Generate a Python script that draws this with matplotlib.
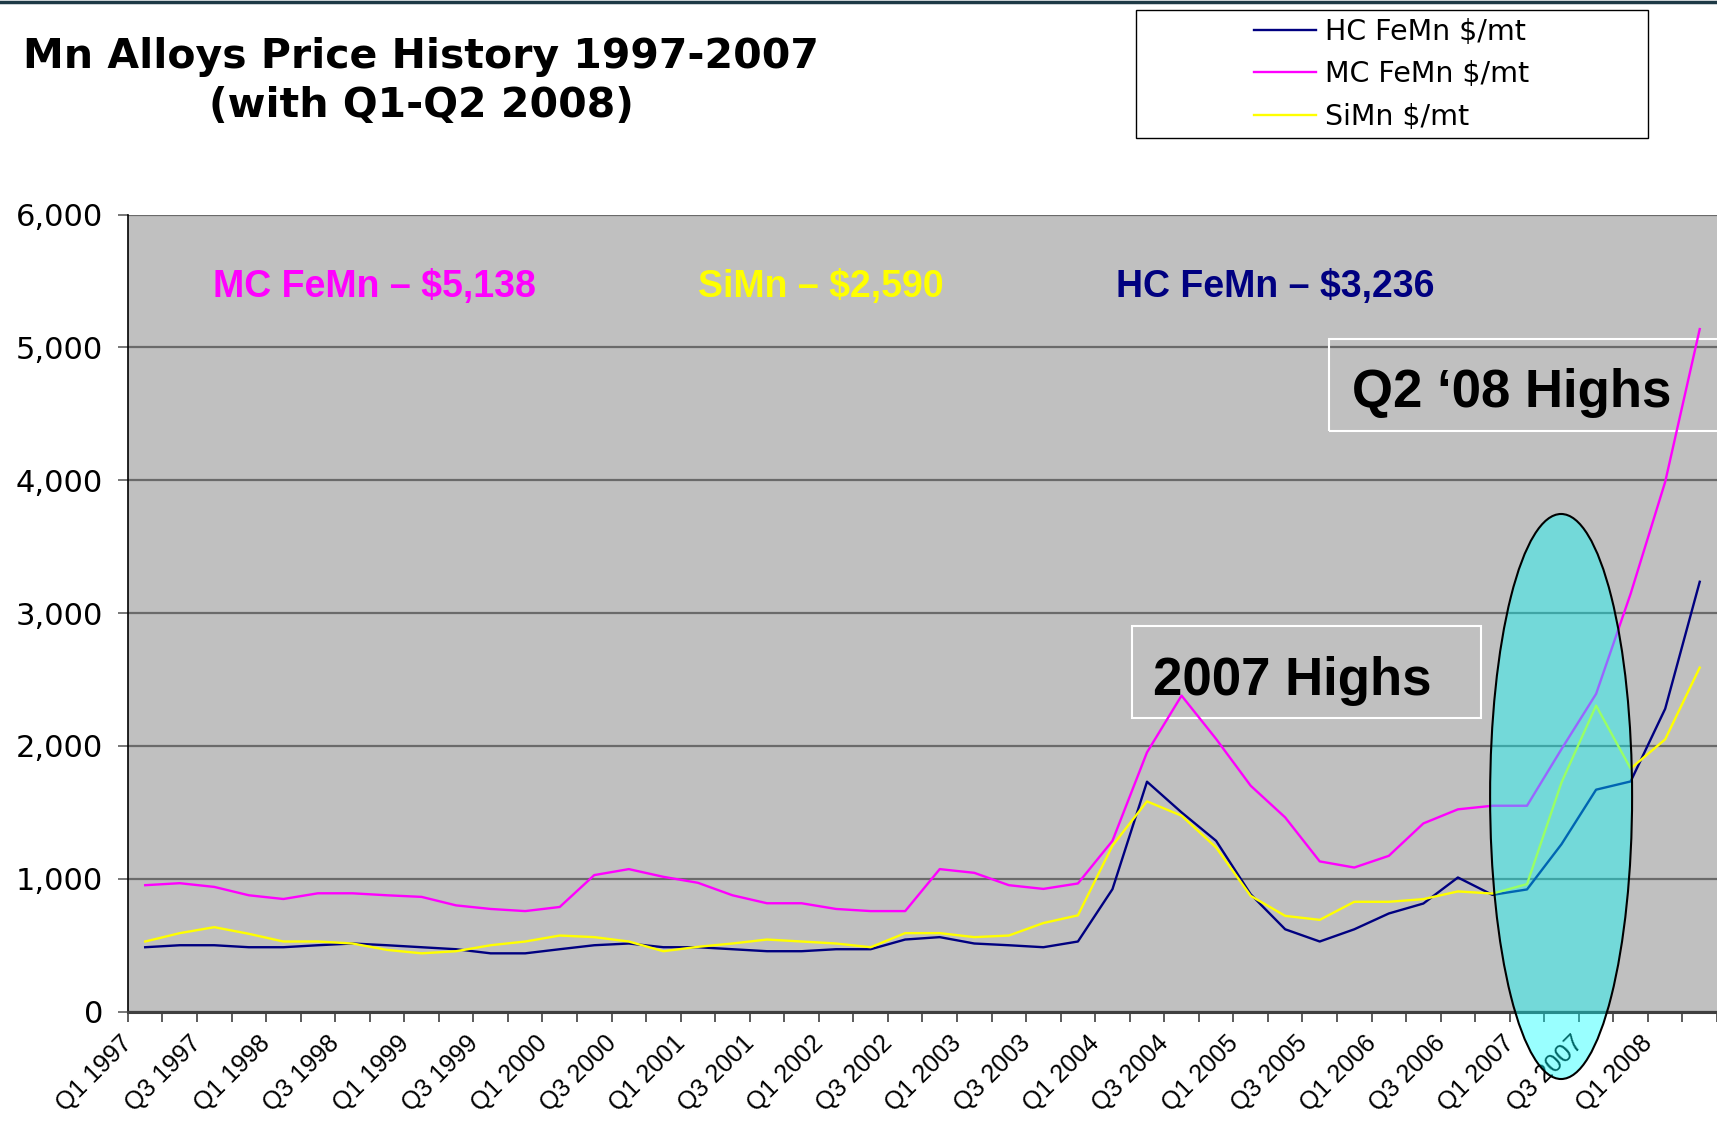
import matplotlib
matplotlib.use('Agg')
import matplotlib.pyplot as plt
import matplotlib.transforms as mtransforms
from matplotlib.patches import Ellipse, Rectangle
from matplotlib.lines import Line2D

# quarterly prices, Q1 1997 .. Q2 2008 ($/mt)
mc_femn = [952, 967, 939, 876, 848, 891, 891, 876, 864, 800, 773, 757, 788,
           1028, 1073, 1015, 970, 876, 816, 816, 773, 757, 757, 1073, 1045,
           952, 924, 965, 1286, 1952, 2379, 2053, 1701, 1462, 1131, 1085,
           1173, 1417, 1523, 1550, 1550, 1977, 2392, 3146, 3988, 5138]
hc_femn = [485, 500, 500, 485, 485, 500, 513, 500, 485, 470, 439, 439, 470,
           500, 513, 485, 485, 470, 455, 455, 470, 470, 543, 561, 513,
           500, 485, 528, 922, 1731, 1500, 1286, 884, 620, 528, 620,
           739, 814, 1010, 879, 920, 1261, 1671, 1733, 2280, 3236]
simn = [528, 591, 636, 586, 528, 528, 513, 465, 439, 455, 500, 528, 573,
        561, 528, 455, 488, 513, 543, 528, 513, 485, 591, 591, 561,
        573, 667, 725, 1250, 1583, 1475, 1236, 872, 721, 691, 827,
        827, 847, 905, 889, 960, 1726, 2304, 1830, 2050, 2590]

tick_labels = ['Q1 1997', 'Q3 1997', 'Q1 1998', 'Q3 1998', 'Q1 1999', 'Q3 1999',
               'Q1 2000', 'Q3 2000', 'Q1 2001', 'Q3 2001', 'Q1 2002', 'Q3 2002',
               'Q1 2003', 'Q3 2003', 'Q1 2004', 'Q3 2004', 'Q1 2005', 'Q3 2005',
               'Q1 2006', 'Q3 2006', 'Q1 2007', 'Q3 2007', 'Q1 2008']
y_ticks = [0, 1000, 2000, 3000, 4000, 5000, 6000]

x = list(range(len(mc_femn)))

fig = plt.figure(figsize=(17.17, 11.33), dpi=100)
ax = fig.add_axes([0.0745, 0.1071, 0.9255, 0.7035])
ax.set_facecolor('#c0c0c0')

ax.plot(x, hc_femn, color='#000080', lw=1.7, label='HC FeMn $/mt')
ax.plot(x, mc_femn, color='#ff00ff', lw=1.7, label='MC FeMn $/mt')
ax.plot(x, simn, color='#ffff00', lw=1.7, label='SiMn $/mt')

ax.set_xlim(-0.5, len(x) - 0.5)
ax.set_ylim(0, 6000)
ax.set_yticks(y_ticks)
ax.set_yticklabels([f'{v:,}' for v in y_ticks])
ax.yaxis.grid(True, color='#6a6a6a', lw=1.6)
ax.set_axisbelow(True)

for s in ['top', 'right']:
    ax.spines[s].set_visible(False)
ax.spines['left'].set_color('black')
ax.spines['left'].set_linewidth(1.2)
ax.spines['bottom'].set_color('#404040')
ax.spines['bottom'].set_linewidth(2.2)

ax.tick_params(axis='y', length=7, width=1.2, color='#606060', pad=11, labelsize=22)
ax.set_xticks(x[::2])
ax.set_xticks([i - 0.5 for i in x] + [len(x) - 0.5], minor=True)
ax.set_xticklabels(tick_labels, rotation=45, ha='right', va='top',
                   rotation_mode='anchor', fontsize=18, family='Liberation Sans')
ax.tick_params(axis='x', which='major', length=0, pad=14)
ax.tick_params(axis='x', which='minor', length=7, width=1.2, color='#404040')
shift = mtransforms.ScaledTranslation(-0.25, 0, fig.dpi_scale_trans)
for lab in ax.get_xticklabels():
    lab.set_transform(lab.get_transform() + shift)

# price callouts
ax.text(0.0535, 0.8963, 'MC FeMn – $5,138', transform=ax.transAxes, color='#ff00ff',
        fontsize=27, fontweight='bold', family='Liberation Sans', va='baseline')
ax.text(0.3585, 0.8963, 'SiMn – $2,590', transform=ax.transAxes, color='#ffff00',
        fontsize=27, fontweight='bold', family='Liberation Sans', va='baseline')
ax.text(0.6215, 0.8963, 'HC FeMn – $3,236', transform=ax.transAxes, color='#000080',
        fontsize=27, fontweight='bold', family='Liberation Sans', va='baseline')

# highlight boxes
ax.add_patch(Rectangle((0.6317, 0.3688), 0.2195, 0.1151, transform=ax.transAxes,
                       fill=False, ec='white', lw=1.5))
ax.text(0.6453, 0.3973, '2007 Highs', transform=ax.transAxes, fontsize=38,
        fontweight='bold', family='Liberation Sans', va='baseline')
ax.add_patch(Rectangle((0.7558, 0.729), 0.3, 0.115, transform=ax.transAxes,
                       fill=False, ec='white', lw=1.5))
ax.text(0.770, 0.7582, 'Q2 \u201808 Highs', transform=ax.transAxes, fontsize=38,
        fontweight='bold', family='Liberation Sans', va='baseline')

# title
fig.text(0.2452, 0.9397, 'Mn Alloys Price History 1997-2007', ha='center',
         va='baseline', fontsize=29.5, fontweight='bold')
fig.text(0.2452, 0.897, '(with Q1-Q2 2008)', ha='center', va='baseline',
         fontsize=29.5, fontweight='bold')

# legend
fig.add_artist(Rectangle((0.6616, 0.8782), 0.2982, 0.113, transform=fig.transFigure,
                         fill=False, ec='black', lw=1))
fig.legend(loc='upper left', bbox_to_anchor=(0.7301, 0.984), frameon=False,
           fontsize=20.5, handlelength=2.2, handletextpad=0.3, labelspacing=0.5,
           borderpad=0, borderaxespad=0)

# ellipse around 2007
fig.add_artist(Ellipse((0.9092, 0.297), 0.0827, 0.4987, transform=fig.transFigure,
                       fc=(0, 1, 1, 0.4), ec='black', lw=1.5))

fig.add_artist(Line2D([0, 1], [0.9985, 0.9985], color='#1e3a46', lw=2.5))

fig.savefig('out.png', dpi=100)
